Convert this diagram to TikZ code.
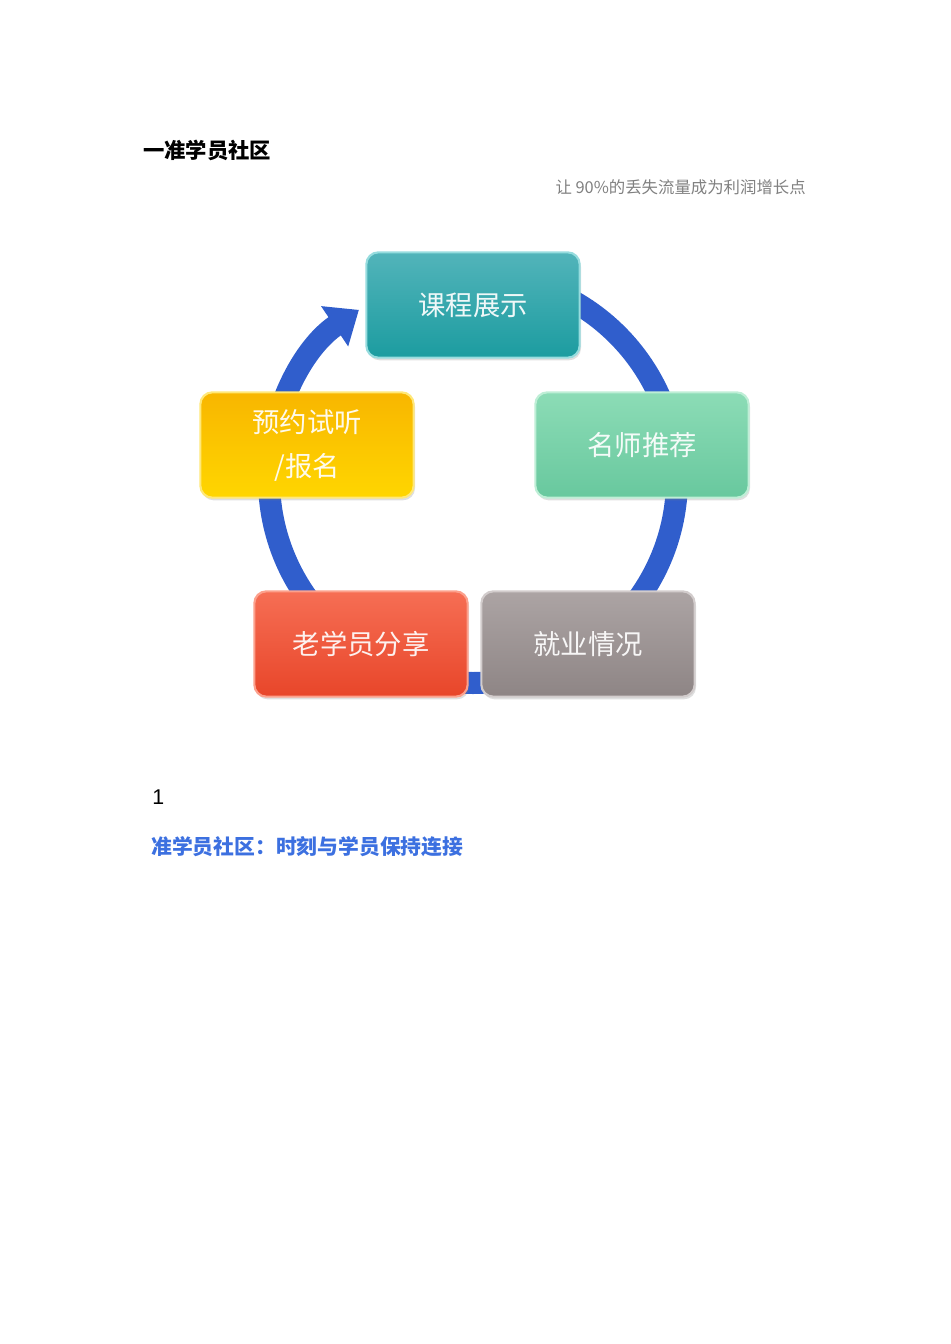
\documentclass[tikz,border=0pt]{standalone}
\usepackage{fontspec}
\setmainfont{Noto Sans CJK SC}
\newfontfamily\latinsans{Liberation Sans}
\usetikzlibrary{arrows.meta,shadows}
\definecolor{ringblue}{RGB}{48,94,204}
\definecolor{headblue}{RGB}{60,112,224}
\definecolor{subgray}{RGB}{128,128,128}
\definecolor{tealtop}{RGB}{82,180,186}
\definecolor{tealbot}{RGB}{28,156,160}
\definecolor{tealedge}{RGB}{150,220,222}
\definecolor{minttop}{RGB}{140,220,182}
\definecolor{mintbot}{RGB}{104,200,158}
\definecolor{mintedge}{RGB}{190,238,214}
\definecolor{goldtop}{RGB}{248,182,0}
\definecolor{goldbot}{RGB}{255,214,0}
\definecolor{goldedge}{RGB}{255,232,120}
\definecolor{redtop}{RGB}{246,110,84}
\definecolor{redbot}{RGB}{232,70,42}
\definecolor{rededge}{RGB}{252,160,140}
\definecolor{graytop}{RGB}{172,164,164}
\definecolor{graybot}{RGB}{142,133,133}
\definecolor{grayedge}{RGB}{210,204,204}
\tikzset{
  stage/.style={rounded corners=9pt, line width=1.6pt, minimum width=160pt,
                minimum height=79pt, align=center, text=white, text opacity=0.92,
                font=\fontsize{20.5}{33}\selectfont,
                drop shadow={opacity=0.25, shadow xshift=1pt, shadow yshift=-2pt}},
  ring/.style={draw=ringblue, line width=16.5pt, -{Triangle[length=22pt,width=35pt]}},
}
\begin{document}
\begin{tikzpicture}[x=0.75pt, y=0.75pt]
  \useasboundingbox (0,0) rectangle (950,-1344);
  % headings
  \node[anchor=west, inner sep=0pt, font=\fontsize{16}{20}\selectfont\bfseries] (title) at (143,-150) {一准学员社区};
  \node[anchor=east, inner sep=0pt, text=subgray, font=\fontsize{12.3}{15}\selectfont] (slogan) at (806,-187) {让 90\%的丢失流量成为利润增长点};
  % cycle ring
  \coordinate (hub) at (473,-479);
  \draw[ring] (hub) ++(90:204) arc[start angle=90, end angle=-236, radius=204];
  % stages
  \node[stage, top color=tealtop, bottom color=tealbot, draw=tealedge] (show) at (473,-305) {课程展示};
  \node[stage, top color=minttop, bottom color=mintbot, draw=mintedge] (teach) at (642,-445) {名师推荐};
  \node[stage, top color=goldtop, bottom color=goldbot, draw=goldedge] (trial) at (307,-445) {预约试听\\/报名};
  \node[stage, top color=redtop, bottom color=redbot, draw=rededge] (share) at (361,-644) {老学员分享};
  \node[stage, top color=graytop, bottom color=graybot, draw=grayedge] (job) at (588,-644) {就业情况};
  % footer
  \node[anchor=west, inner sep=0pt, font=\fontsize{16}{20}\selectfont\latinsans] (num) at (152,-797) {1};
  \node[anchor=west, inner sep=0pt, text=headblue, font=\fontsize{15.6}{20}\selectfont\bfseries] (lead) at (151,-847) {准学员社区：时刻与学员保持连接};
\end{tikzpicture}
\end{document}
